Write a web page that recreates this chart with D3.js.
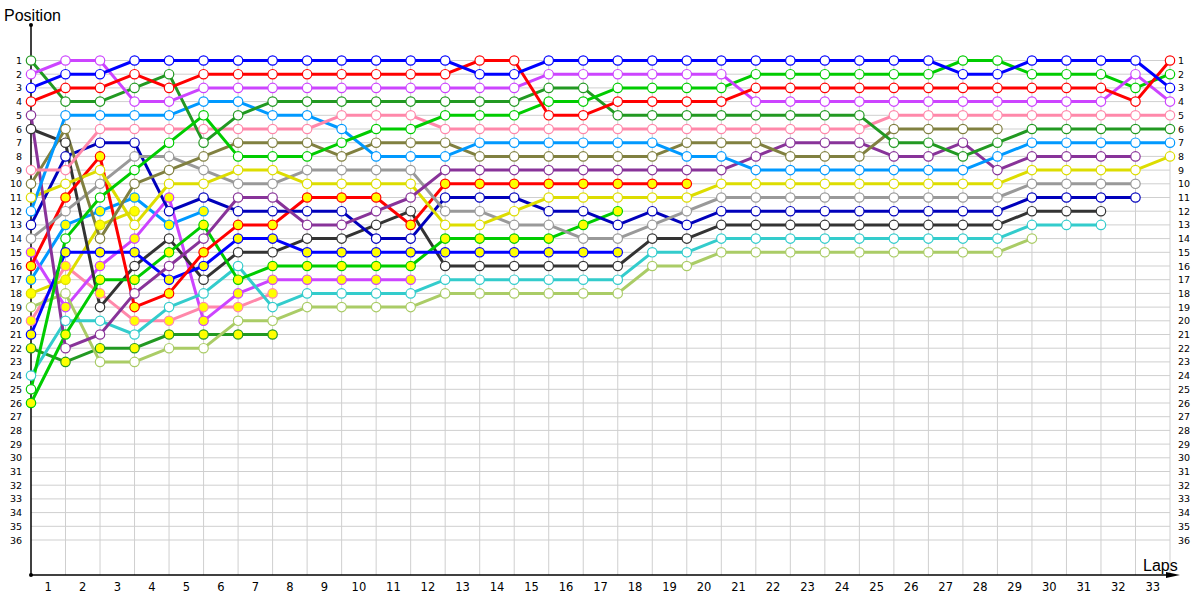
<!DOCTYPE html>
<html><head><meta charset="utf-8">
<script src="https://cdn.jsdelivr.net/npm/d3@7"></script>
<style>body{margin:0;background:#fff}svg{display:block}</style>
</head><body><svg id="c" width="1200" height="600"></svg>
<script>
const laps = d3.range(0, 34);
const lapLabels = d3.range(1, 34);
const positionLabels = d3.range(1, 37);
const _ = null;
// positions per lap (lap 0..33); null = not running
const BL  = [3,2,2,1,1,1,1,1,1,1,1,1,1,2,2,1,1,1,1,1,1,1,1,1,1,1,1,2,2,1,1,1,1,3];
const RD  = [4,3,3,2,3,2,2,2,2,2,2,2,2,1,1,5,5,4,4,4,4,3,3,3,3,3,3,3,3,3,3,3,4,1];
const PU  = [2,1,1,4,4,3,3,3,3,3,3,3,3,3,3,2,2,2,2,2,2,4,4,4,4,4,4,4,4,4,4,4,2,4];
const DG  = [1,4,4,3,2,7,5,4,4,4,4,4,4,4,4,3,3,5,5,5,5,5,5,5,5,7,7,8,7,6,6,6,6,6];
const LB  = [12,5,5,5,5,4,4,5,5,6,8,8,8,7,7,7,7,7,7,8,8,9,9,9,9,9,9,9,8,7,7,7,7,7];
const PK  = [9,9,6,6,6,6,6,6,6,5,5,5,6,6,6,6,6,6,6,6,6,6,6,6,6,5,5,5,5,5,5,5,5,5];
const OL  = [10,6,14,10,9,8,7,7,7,8,7,7,7,8,8,8,8,8,8,7,7,7,8,8,8,6,6,6,6,_,_,_,_,_];
const BG  = [25,14,11,9,7,5,8,8,8,7,6,6,5,5,5,4,4,3,3,3,3,2,2,2,2,2,2,1,1,2,2,2,3,2];
const DP  = [5,22,21,18,16,14,11,11,13,13,12,11,9,9,9,9,9,9,9,9,9,8,7,7,7,8,8,7,9,8,8,8,8,_];
const GR  = [14,12,10,8,8,9,10,10,9,9,9,9,12,12,13,13,14,14,13,12,11,11,11,11,11,11,11,11,11,10,10,10,10,_];
const YE  = [11,10,9,13,10,10,9,9,10,10,10,10,13,13,12,11,11,11,11,11,10,10,10,10,10,10,10,10,10,9,9,9,9,8];
const DB  = [13,8,7,7,12,11,12,12,12,12,14,14,11,11,11,12,12,13,12,13,12,12,12,12,12,12,12,12,12,11,11,11,11,_];
const DK  = [6,7,19,16,14,17,15,15,14,14,13,12,16,16,16,16,16,16,14,14,13,13,13,13,13,13,13,13,13,12,12,12,_,_];
const CY  = [24,20,20,21,19,18,16,19,18,18,18,18,17,17,17,17,17,17,15,15,14,14,14,14,14,14,14,14,14,13,13,13,_,_];
const LO  = [19,18,23,23,22,22,20,20,19,19,19,19,18,18,18,18,18,18,16,16,15,15,15,15,15,15,15,15,15,14,_,_,_,_];
const PUy = [15,19,16,14,11,20,18,17,17,17,17,17];
const RDy = [16,11,8,19,18,15,13,13,11,11,11,13,10,10,10,10,10,10,10,10];
const LBy = [17,13,12,11,13,12];
const YEy = [18,17,13,12];
const PKy = [20,16,18,20,20,19,19,18];
const BLy = [21,15,15,15,17,16,14,14,15,15,15,15,15,15,15,15,15,15];
const DGy = [22,23,22,22,21,21,21,21];
const BGy = [26,21,17,17,15,13,17,16,16,16,16,16,14,14,14,14,13,12];

const series = [
  {v:DGy,c:"#229922",f:"#ffff00"},{v:PKy,c:"#ff88aa",f:"#ffff00"},{v:LBy,c:"#0099ff",f:"#ffff00"},
  {v:YEy,c:"#dddd00",f:"#ffff00"},{v:PUy,c:"#cc44ff",f:"#ffff00"},
  {v:LO,c:"#aacc66",f:"#fff"},{v:CY,c:"#33cccc",f:"#fff"},{v:DK,c:"#333333",f:"#fff"},
  {v:BGy,c:"#00cc00",f:"#ffff00"},{v:BLy,c:"#0000ff",f:"#ffff00"},{v:RDy,c:"#ff0000",f:"#ffff00"},
  {v:DB,c:"#0000bb",f:"#fff"},{v:GR,c:"#999999",f:"#fff"},{v:YE,c:"#dddd00",f:"#fff"},
  {v:DP,c:"#883399",f:"#fff"},{v:OL,c:"#808040",f:"#fff"},{v:LB,c:"#0099ff",f:"#fff"},
  {v:PK,c:"#ff88aa",f:"#fff"},{v:DG,c:"#229922",f:"#fff"},{v:BG,c:"#00cc00",f:"#fff"},
  {v:PU,c:"#cc44ff",f:"#fff"},{v:RD,c:"#ff0000",f:"#fff"},{v:BL,c:"#0000ff",f:"#fff"}
];

const svg = d3.select("#c");
const x = d3.scaleLinear().domain([0,33]).range([31,1170]);
const y = d3.scaleLinear().domain([1,36]).range([60.5,540]);
const xb = d3.scaleBand().domain(lapLabels).range([31,1170]);
const axisY = 575;

// grid
const g = svg.append("g");
g.selectAll("line.h").data(positionLabels).join("line")
  .attr("x1",x(0)).attr("x2",x(33)).attr("y1",d=>y(d)).attr("y2",d=>y(d))
  .attr("stroke","#cfcfcf").attr("stroke-width",1);
g.selectAll("line.v").data(laps.slice(1)).join("line")
  .attr("x1",d=>x(d)).attr("x2",d=>x(d)).attr("y1",y(1)).attr("y2",axisY)
  .attr("stroke","#cfcfcf").attr("stroke-width",1);

// axes
const ax = svg.append("g");
ax.append("line").attr("x1",x(0)).attr("x2",x(0)).attr("y1",25).attr("y2",axisY).attr("stroke","#000").attr("stroke-width",1.5);
ax.append("line").attr("x1",x(0)).attr("x2",1172).attr("y1",axisY).attr("y2",axisY).attr("stroke","#000").attr("stroke-width",1.5);
ax.append("path").attr("d",`M1166,${axisY-3}L1180,${axisY}L1166,${axisY+3}Z`).attr("fill","#000");
ax.append("circle").attr("cx",x(0)).attr("cy",25).attr("r",2).attr("fill","#000");
ax.append("circle").attr("cx",x(0)).attr("cy",axisY).attr("r",2).attr("fill","#000");

const leftAxis = d3.axisLeft(y).tickValues(positionLabels).tickSize(0).tickPadding(9).tickFormat(d3.format("d"));
const la = svg.append("g").attr("transform",`translate(${x(0)},0)`).call(leftAxis);
la.select(".domain").remove();
la.selectAll("text").attr("font-family","DejaVu Sans, sans-serif").attr("font-size",9.5).attr("fill","#000");

const rightAxis = d3.axisRight(y).tickValues(positionLabels).tickSize(0).tickPadding(8).tickFormat(d3.format("d"));
const ra = svg.append("g").attr("transform",`translate(${x(33)},0)`).call(rightAxis);
ra.select(".domain").remove();
ra.selectAll("text").attr("font-family","DejaVu Sans, sans-serif").attr("font-size",9.5).attr("fill","#000");

const bottomAxis = d3.axisBottom(xb).tickSize(0).tickPadding(8);
const ba = svg.append("g").attr("transform",`translate(0,${axisY})`).call(bottomAxis);
ba.select(".domain").remove();
ba.selectAll("text").attr("font-family","DejaVu Sans, sans-serif").attr("font-size",11.5).attr("fill","#000");

svg.append("text").attr("x",4).attr("y",21).text("Position")
  .attr("font-family","Liberation Sans, Arial, sans-serif").attr("font-size",16);
svg.append("text").attr("x",1143).attr("y",571).text("Laps")
  .attr("font-family","Liberation Sans, Arial, sans-serif").attr("font-size",16);

// lines
const line = d3.line().defined(d=>d!=null).x((d,i)=>x(i)).y(d=>y(d));
const lg = svg.append("g");
series.forEach(s=>{
  lg.append("path").attr("d",line(s.v)).attr("fill","none").attr("stroke",s.c)
    .attr("stroke-width",3).attr("stroke-linejoin","round");
});
const mg = svg.append("g");
series.forEach(s=>{
  const pts = s.v.map((p,i)=>({p,i})).filter(d=>d.p!=null);
  mg.selectAll(null).data(pts).join("circle")
    .attr("cx",d=>x(d.i)).attr("cy",d=>y(d.p)).attr("r",4.7)
    .attr("fill",s.f).attr("stroke",s.c).attr("stroke-width",1.2);
});
</script></body></html>
